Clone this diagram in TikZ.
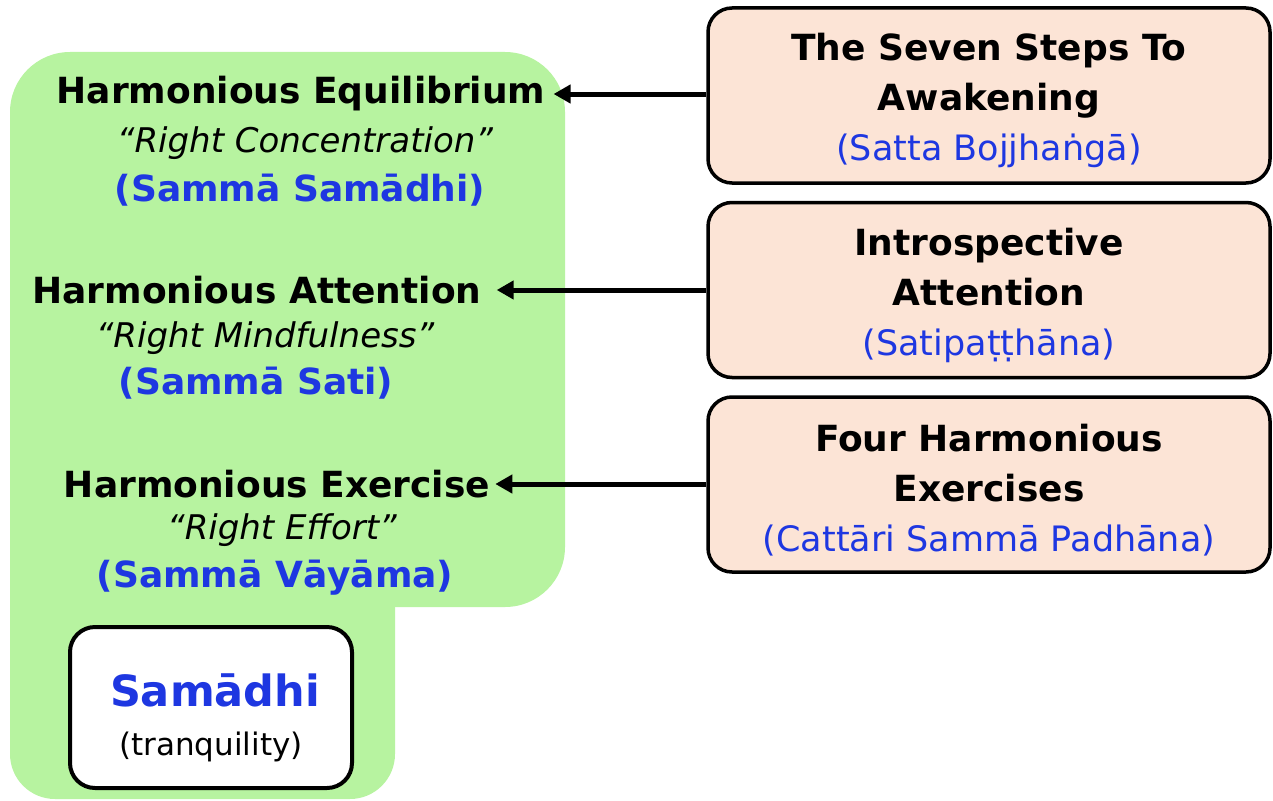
\documentclass[tikz,border=0pt]{standalone}
\usepackage{fontspec}
\setmainfont{DejaVu Sans}
\usetikzlibrary{arrows.meta}
\definecolor{gfill}{RGB}{183,243,160}
\definecolor{pfill}{RGB}{252,228,214}
\definecolor{tblue}{RGB}{30,55,225}
\begin{document}
\begin{tikzpicture}[x=1pt,y=-1pt,
  lbold/.style={font=\fontsize{36}{40}\selectfont\bfseries, inner sep=0pt},
  lital/.style={font=\fontsize{34}{40}\selectfont\itshape, inner sep=0pt},
  lblue/.style={font=\fontsize{36}{40}\selectfont\bfseries, text=tblue, inner sep=0pt},
  rbox/.style={draw=black, line width=3.5pt, fill=pfill, rounded corners=24pt,
    minimum width=562pt, minimum height=175pt, align=center, inner sep=0pt,
    font=\fontsize{36}{50}\selectfont\bfseries},
  sambox/.style={draw=black, line width=4pt, fill=white, rounded corners=25pt,
    minimum width=282pt, minimum height=161pt, inner sep=0pt},
  arr/.style={line width=5pt, -{Triangle[length=17pt,width=18pt]}},
]
\useasboundingbox (0,0) rectangle (1273,800);
% green region
\fill[gfill, rounded corners=60pt] (10,52) rectangle (565,607);
\fill[gfill, rounded corners=45pt] (10,300) rectangle (395,799);

% left texts
\node[lbold] (heq) at (301,94) {Harmonious Equilibrium};
\node[lital] (rc) at (305,143) {“Right Concentration”};
\node[lblue] (ss) at (300,190) {(Sammā Samādhi)};

\node[lbold] (hat) at (257,290) {Harmonious Attention};
\node[lital] (rm) at (265,338) {“Right Mindfulness”};
\node[lblue] (sst) at (256,383) {(Sammā Sati)};

\node[lbold] (hex) at (277,484) {Harmonious Exercise};
\node[lital] (re) at (282,530) {“Right Effort”};
\node[lblue] (sv) at (275,578) {(Sammā Vāyāma)};

% Samadhi box
\node[sambox] (sam) at (211,707.5) {};
\node[font=\fontsize{43}{45}\selectfont\bfseries, text=tblue, inner sep=0pt] (samt) at (215,690) {Samādhi};
\node[font=\fontsize{31}{35}\selectfont, inner sep=0pt] (tranq) at (211,747) {(tranquility)};

% right boxes
\node[rbox] (b1) at (989,95.5) {\rule{0pt}{38pt}The Seven Steps To\\Awakening\\\mdseries\fontsize{35}{50}\selectfont\color{tblue}(Satta Bojjhaṅgā)};
\node[rbox] (b2) at (989,290) {\rule{0pt}{38pt}Introspective\\Attention\\\mdseries\fontsize{35}{50}\selectfont\color{tblue}(Satipaṭṭhāna)};
\node[rbox] (b3) at (989,484.5) {\rule{0pt}{38pt}Four Harmonious\\Exercises\\\mdseries\fontsize{35}{50}\selectfont\color{tblue}(Cattāri Sammā Padhāna)};

% arrows
\draw[arr] (b1.west |- heq.east) -- ([xshift=8pt]heq.east);
\draw[arr] (b2.west |- hat.east) -- ([xshift=15pt]hat.east);
\draw[arr] (b3.west |- hex.east) -- ([xshift=5pt]hex.east);
\end{tikzpicture}
\end{document}
